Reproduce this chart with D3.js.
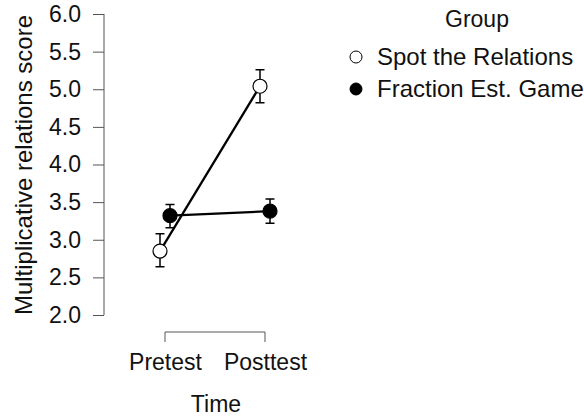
<!DOCTYPE html>
<html>
<head>
<meta charset="utf-8">
<script src="https://cdn.jsdelivr.net/npm/d3@7"></script>
<style>
  body { margin: 0; background: #fff; }
  text { font-family: "Liberation Sans", Arial, sans-serif; fill: #111; }
</style>
</head>
<body>
<div id="container"></div>
<script>
// chart data
const times = ['Pretest', 'Posttest'];
const groups = ['Spot the Relations', 'Fraction Est. Game'];
const spotMean = [2.85, 5.04];
const spotLow = [2.64, 4.82];
const spotHigh = [3.08, 5.26];
const fracMean = [3.32, 3.38];
const fracLow = [3.16, 3.22];
const fracHigh = [3.47, 3.54];
const yTicks = [2.0, 2.5, 3.0, 3.5, 4.0, 4.5, 5.0, 5.5, 6.0];

const svgWidth = 584;
const svgHeight = 417;

const svg = d3.select('#container')
  .append('svg')
  .attr('width', svgWidth)
  .attr('height', svgHeight);

const yScale = d3.scaleLinear()
  .domain([2, 6])
  .range([315, 14]);

const xScale = d3.scalePoint()
  .domain(times)
  .range([165, 265]);

const dodge = [-5, 5];

// y axis
const yAxis = d3.axisLeft(yScale)
  .tickValues(yTicks)
  .tickFormat(d3.format('.1f'))
  .tickSize(11)
  .tickPadding(12);

const gy = svg.append('g')
  .attr('transform', 'translate(104,0)')
  .call(yAxis);
gy.select('.domain').attr('stroke', '#555').attr('d', 'M0,' + yScale(2) + 'V' + yScale(6));
gy.selectAll('.tick line').attr('stroke', '#555');
gy.selectAll('.tick text').style('font-size', '23px').attr('fill', '#111');

// x axis bracket
const xAxis = d3.axisBottom(xScale).tickSize(0).tickPadding(0);
const gx = svg.append('g')
  .attr('transform', 'translate(0,332)')
  .call(xAxis);
gx.select('.domain').attr('stroke', '#555')
  .attr('d', 'M' + xScale('Pretest') + ',10V0H' + xScale('Posttest') + 'V10');
gx.selectAll('.tick line').remove();
gx.selectAll('.tick text')
  .attr('y', 38)
  .attr('dy', 0)
  .style('font-size', '23px')
  .attr('fill', '#111');

// axis titles
svg.append('text')
  .attr('transform', 'translate(32,165) rotate(-90)')
  .attr('text-anchor', 'middle')
  .style('font-size', '24px')
  .text('Multiplicative relations score');

svg.append('text')
  .attr('x', 216)
  .attr('y', 412)
  .attr('text-anchor', 'middle')
  .style('font-size', '23px')
  .text('Time');

const series = [
  { mean: spotMean, low: spotLow, high: spotHigh, fill: '#fff', dx: dodge[0] },
  { mean: fracMean, low: fracLow, high: fracHigh, fill: '#000', dx: dodge[1] }
];

const line = d3.line()
  .x((d, i) => xScale(times[i]))
  .y(d => yScale(d));

series.forEach(function (s) {
  const g = svg.append('g').attr('transform', 'translate(' + s.dx + ',0)');

  g.append('path')
    .datum(s.mean)
    .attr('fill', 'none')
    .attr('stroke', '#000')
    .attr('stroke-width', 2.3)
    .attr('d', line);

  times.forEach(function (t, i) {
    const x = xScale(t);
    g.append('path')
      .attr('fill', 'none')
      .attr('stroke', '#000')
      .attr('stroke-width', 1.5)
      .attr('d', 'M' + (x - 4.5) + ',' + yScale(s.high[i]) + 'H' + (x + 4.5) +
        'M' + x + ',' + yScale(s.high[i]) + 'V' + yScale(s.low[i]) +
        'M' + (x - 4.5) + ',' + yScale(s.low[i]) + 'H' + (x + 4.5));
  });

  g.selectAll('circle')
    .data(s.mean)
    .enter()
    .append('circle')
    .attr('cx', (d, i) => xScale(times[i]))
    .attr('cy', d => yScale(d))
    .attr('r', 7)
    .attr('fill', s.fill)
    .attr('stroke', '#000')
    .attr('stroke-width', 1.2);
});

// legend
svg.append('text')
  .attr('x', 477)
  .attr('y', 27)
  .attr('text-anchor', 'middle')
  .style('font-size', '23px')
  .text('Group');

const legend = svg.selectAll('.legend')
  .data(groups)
  .enter()
  .append('g')
  .attr('class', 'legend')
  .attr('transform', (d, i) => 'translate(356,' + (57 + i * 32) + ')');

legend.append('circle')
  .attr('r', 6)
  .attr('fill', (d, i) => series[i].fill)
  .attr('stroke', '#000');

legend.append('text')
  .attr('x', 21)
  .attr('y', 8)
  .style('font-size', '24px')
  .text(d => d);
</script>
</body>
</html>
